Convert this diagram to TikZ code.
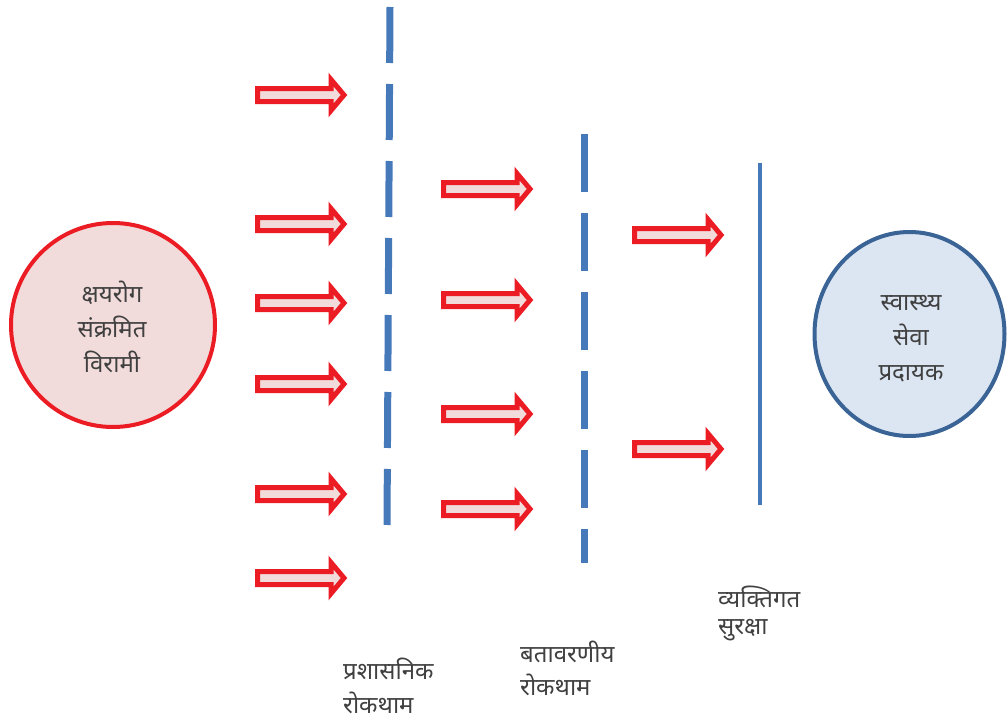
\documentclass[tikz,border=0pt]{standalone}
\usepackage{fontspec}
\newfontfamily\deva[Script=Devanagari]{Noto Sans}
\usetikzlibrary{shapes.geometric}
\definecolor{arrowred}{HTML}{EC1C24}
\definecolor{arrowfill}{HTML}{F2DCDB}
\definecolor{barrierblue}{HTML}{4579BA}
\definecolor{providerblue}{HTML}{3A6396}
\definecolor{providerfill}{HTML}{DCE6F2}
\definecolor{labelgray}{HTML}{404040}
\tikzset{
  x=1pt, y=-1pt,
  devatext/.style={font=\deva\fontsize{24}{#1}\selectfont, text=labelgray,
    inner sep=0pt},
  devatext/.default=35,
  patient/.style={circle, draw=arrowred, fill=arrowfill, line width=4pt,
    minimum size=204pt, inner sep=0pt},
  provider/.style={ellipse, draw=providerblue, fill=providerfill, line width=4pt,
    minimum width=190pt, minimum height=204pt, inner sep=0pt},
  % multi-line nodes: the base anchor sits on the last line
  inner text/.style={devatext, align=center, anchor=base},
  barrier/.style={draw=barrierblue, line width=7pt},
  caption/.style={devatext=#1, align=left, anchor=base west},
  caption/.default=35,
  blockarrow/.pic={
    \draw[draw=arrowred, fill=arrowfill, line width=5pt, line join=miter]
      (2.5,-6.5) -- (76,-6.5) -- (76,-15.5) -- (89,0) -- (76,15.5)
      -- (76,6.5) -- (2.5,6.5) -- cycle;
  }
}
\begin{document}
\begin{tikzpicture}
\path[use as bounding box] (0,0) rectangle (1007,720);

% the two ends of the path of infection
\node[patient] (patient) at (113,325) {};
\node[inner text] (patienttext) at (112,372) {क्षयरोग\\संक्रमित\\विरामी};
\node[provider] (provider) at (909.5,334) {};
\node[inner text] (providertext) at (911,380) {स्वास्थ्य\\सेवा\\प्रदायक};

% the three barriers
\coordinate (b1top) at (390,7);
\coordinate (b1bot) at (387,527);
\draw[barrier, dash pattern=on 56pt off 21pt] (b1top) -- (b1bot);
\coordinate (b2top) at (584,134);
\coordinate (b2bot) at (584,563);
\draw[barrier, dash pattern=on 58pt off 21pt] (b2top) -- (b2bot);
\coordinate (b3top) at (760,163);
\coordinate (b3bot) at (760,505);
\draw[draw=barrierblue, line width=4pt] (b3top) -- (b3bot);

% arrows before the first barrier
\pic (a1) at (255,95) {blockarrow};
\pic (a2) at (255,224) {blockarrow};
\pic (a3) at (255,303) {blockarrow};
\pic (a4) at (255,384) {blockarrow};
\pic (a5) at (255,494) {blockarrow};
\pic (a6) at (255,578) {blockarrow};
% arrows before the second barrier
\pic (b1) at (441,189) {blockarrow};
\pic (b2) at (441,300) {blockarrow};
\pic (b3) at (441,414) {blockarrow};
\pic (b4) at (441,509) {blockarrow};
% arrows before the third barrier
\pic (c1) at (632,235) {blockarrow};
\pic (c2) at (632,449) {blockarrow};

% barrier captions
\node[caption=34] (cap1) at (343,713) {प्रशासनिक\\रोकथाम};
\node[caption=33] (cap2) at (520,695) {बतावरणीय\\रोकथाम};
\node[caption=27] (cap3) at (718,634) {व्यक्तिगत\\सुरक्षा};
\end{tikzpicture}
\end{document}
